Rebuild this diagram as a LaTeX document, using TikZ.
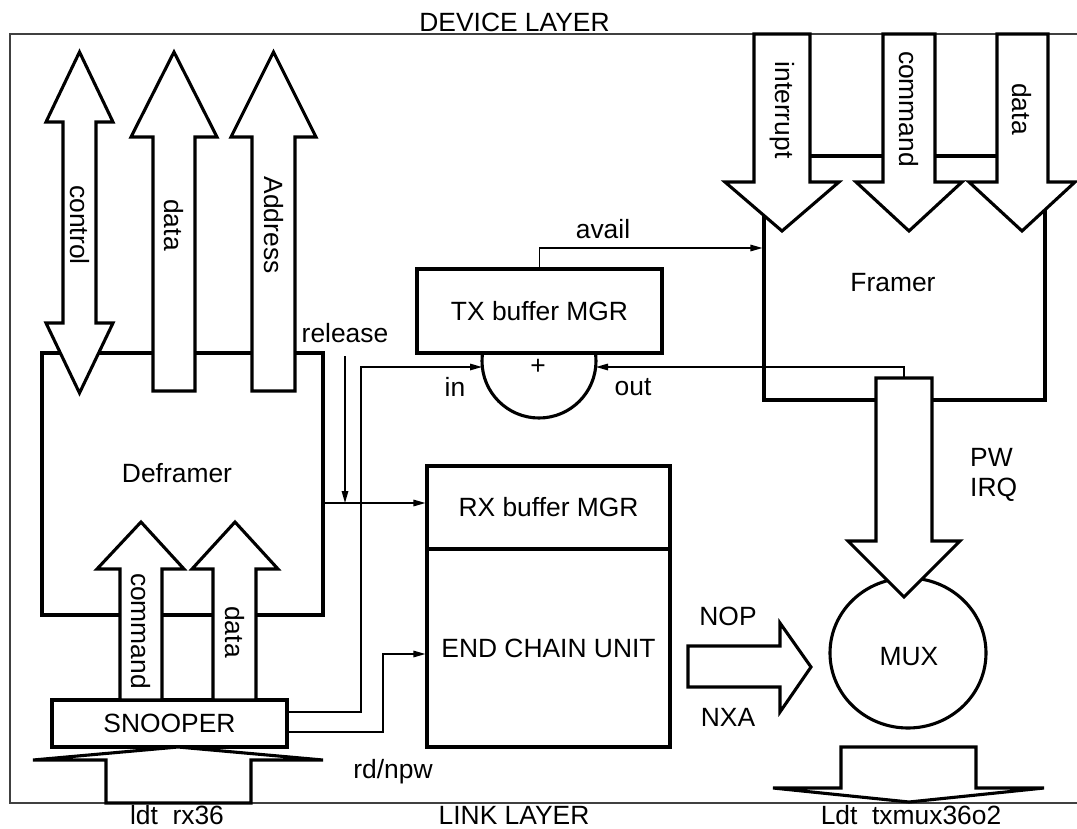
\documentclass[tikz,border=0pt]{standalone}
\usepackage{fontspec}
\setmainfont{Liberation Sans}
\usetikzlibrary{arrows.meta,shapes.geometric}
\begin{document}
\begin{tikzpicture}[x=1pt,y=-1pt,
  font=\fontsize{26.4}{30}\selectfont,
  thk/.style={line width=3.1pt},
  boxnode/.style={draw,line width=3.1pt,fill=white,inner sep=0pt},
  bigarrow/.style={draw,line width=3.1pt,fill=white,line join=miter,miter limit=10},
  conn/.style={line width=1.5pt,-{Triangle[length=12pt,width=6.5pt]}},
  lbl/.style={inner sep=0pt},
  vlbl/.style={inner sep=0pt,rotate=-90}]
\useasboundingbox (0,0) rectangle (1077,828);
% frame
\draw[line width=1.3pt, black!75] (1077,34) -- (10,34) -- (10,803) -- (1077,803);
% boxes
\node[boxnode, minimum width=281pt, minimum height=262pt] (defr) at (182.5,484) {};
\node[boxnode, minimum width=281pt, minimum height=244pt] (framer) at (904.5,278) {};
\node[circle, draw, thk, minimum size=114pt, inner sep=0pt] (semi) at (539,361) {};
\node[boxnode, minimum width=245pt, minimum height=84pt] (tx) at (539.5,311) {TX buffer MGR};
\node[boxnode, minimum width=243pt, minimum height=83pt] (rx) at (548.5,507.5) {RX buffer MGR};
\node[boxnode, minimum width=243pt, minimum height=198pt] (ecu) at (548.5,648) {END CHAIN UNIT};
\node[boxnode, minimum width=235pt, minimum height=47pt] (snoop) at (169.5,723.5) {SNOOPER};
\node[ellipse, draw, thk, minimum width=156pt, minimum height=150pt, inner sep=0pt] (mux) at (908,653) {};
% connectors
\coordinate (relS) at (345,356);
\coordinate (relE) at (345,503);
\coordinate (inP) at (482,367);
\coordinate (outP) at (596,367);
\coordinate (muxtop) at (904,378);
\draw[conn] (relS) -- (relE);
\draw[conn] (defr.east |- relE) -- (rx.west |- relE);
\draw[conn] (snoop.east |- 0,712) -| (361,367) -- (inP);
\draw[conn] (snoop.east |- 0,732) -| (383,654) -- (ecu.west |- 0,654);
\draw[conn] (muxtop) |- (outP);
\draw[conn] (tx.north) |- (framer.west |- 0,248);
% big arrows
\draw[bigarrow] (79.5,52) -- (113,122) -- (96,122) -- (96,323) -- (113,323) -- (79.5,393) -- (46,323) -- (63,323) -- (63,122) -- (46,122) -- cycle;
\draw[bigarrow] (174,52) -- (217,137) -- (195,137) -- (195,391) -- (153,391) -- (153,137) -- (131,137) -- cycle;
\draw[bigarrow] (273.5,52) -- (316,137) -- (295,137) -- (295,391) -- (252,391) -- (252,137) -- (231,137) -- cycle;
\draw[bigarrow] (754,34) -- (810,34) -- (810,182) -- (839,182) -- (782,231) -- (725,182) -- (754,182) -- cycle;
\draw[bigarrow] (883,34) -- (935,34) -- (935,182) -- (962,182) -- (909,231) -- (856,182) -- (883,182) -- cycle;
\draw[bigarrow] (997,34) -- (1048,34) -- (1048,182) -- (1075,182) -- (1022,231) -- (969,182) -- (997,182) -- cycle;
\draw[bigarrow] (876,378) -- (932,378) -- (932,541) -- (960,541) -- (904,597) -- (848,541) -- (876,541) -- cycle;
\draw[bigarrow] (120,700) -- (120,569) -- (97,569) -- (141,522) -- (184,569) -- (162,569) -- (162,700) -- cycle;
\draw[bigarrow] (213,700) -- (213,569) -- (192,569) -- (235,522) -- (278,569) -- (256,569) -- (256,700) -- cycle;
\draw[bigarrow] (688,646) -- (780,646) -- (780,623) -- (811,667) -- (780,712) -- (780,687) -- (688,687) -- cycle;
\draw[bigarrow] (33,760) -- (106,760) -- (106,803) -- (251,803) -- (251,760) -- (323,760) -- (178,747) -- cycle;
\draw[bigarrow] (841,747) -- (976,747) -- (976,788) -- (1044,788) -- (909,802) -- (773,788) -- (841,788) -- cycle;
% labels
\node[lbl] (defrl) at (177,473) {Deframer};
\node[lbl] (framerl) at (893,283) {Framer};
\node[lbl] (muxl) at (909,657) {MUX};
\node[lbl] (plus) at (538,367) {+};
\node[vlbl] (lctl) at (79.5,225) {control};
\node[vlbl] (ldat1) at (174,225) {data};
\node[vlbl] (ladr) at (273.5,225) {Address};
\node[vlbl] (lint) at (782,110) {interrupt};
\node[vlbl] (lcmd1) at (909,109) {command};
\node[vlbl] (ldat2) at (1022,109) {data};
\node[vlbl] (lcmd2) at (141,631) {command};
\node[vlbl] (ldat3) at (235,632) {data};
\node[lbl] (devl) at (514.5,22) {DEVICE LAYER};
\node[lbl] (linkl) at (514,815) {LINK LAYER};
\node[lbl] (rxin) at (177,815) {ldt\ \ rx36};
\node[lbl] (txout) at (911,815) {Ldt\ \ txmux36o2};
\node[lbl] (rdnpw) at (393,772) {rd/npw};
\node[lbl] (rel) at (345,333) {release};
\node[lbl] (avail) at (603,229) {avail};
\node[lbl] (inl) at (455,387) {in};
\node[lbl] (outl) at (633,387) {out};
\node[lbl,anchor=west] (pw) at (970,457) {PW};
\node[lbl,anchor=west] (irq) at (970,490) {IRQ};
\node[lbl] (nop) at (728,616) {NOP};
\node[lbl] (nxa) at (728,717) {NXA};
\end{tikzpicture}
\end{document}
